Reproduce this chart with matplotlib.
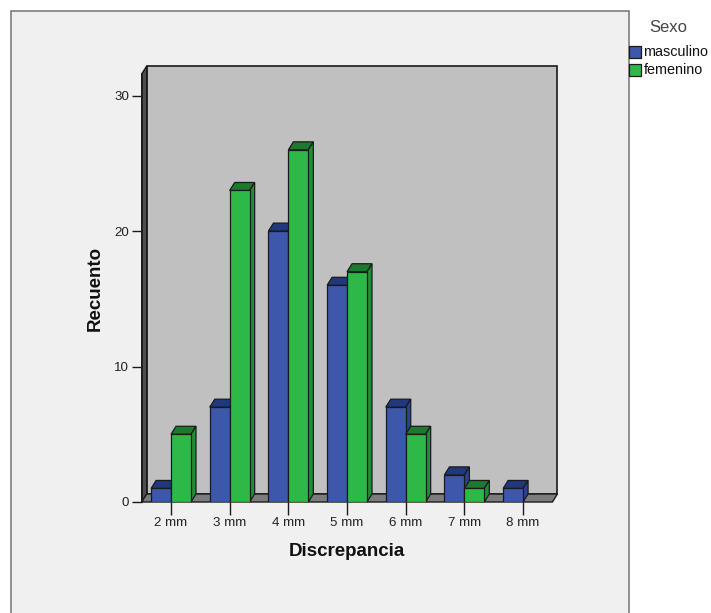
import matplotlib
matplotlib.use("Agg")
from matplotlib import pyplot as plt
from matplotlib.patches import Polygon, Rectangle

plt.rcParams['font.family'] = ['Liberation Sans', 'DejaVu Sans']

# datos: recuento por discrepancia y sexo
categorias = ['2 mm', '3 mm', '4 mm', '5 mm', '6 mm', '7 mm', '8 mm']
masculino = [1, 7, 20, 16, 7, 2, 1]
femenino = [5, 23, 26, 17, 5, 1, 0]
y_ticks = [0, 10, 20, 30]

W, H = 711, 613
fig = plt.figure(figsize=(W / 100, H / 100), dpi=100)
fig.patch.set_facecolor('white')


def fx(px):
    return px / W


def fy(py):
    return 1 - py / H


# panel gris claro del grafico
fig.patches.append(Rectangle((fx(11), fy(640)), fx(629) - fx(11), fy(11) - fy(640),
                             transform=fig.transFigure, facecolor='#f0f0f0',
                             edgecolor='#7f7f7f', linewidth=1.2, zorder=-1))

left, right, bottom, top = 141.7, 552.4, 502, 74
ax = fig.add_axes([fx(left), fy(bottom), (right - left) / W, (bottom - top) / H])
ax.set_zorder(2)
x0, x1 = -0.5, 6.5
ymax = 31.6
ax.set_xlim(x0, x1)
ax.set_ylim(0, ymax)
ax.patch.set_visible(False)
for s in ax.spines.values():
    s.set_visible(False)

# profundidad 3D en unidades de datos
dx = 5 / ((right - left) / (x1 - x0))
dy = 8 / ((bottom - top) / ymax)

ec = '#1a1a1a'
# pared del fondo, pared izquierda y suelo
ax.add_patch(Polygon([(x0 + dx, dy), (x1 + dx, dy), (x1 + dx, ymax + dy), (x0 + dx, ymax + dy)],
                     facecolor='#c0c0c0', edgecolor=ec, lw=1.2, clip_on=False, zorder=1))
ax.add_patch(Polygon([(x0, 0), (x0 + dx, dy), (x0 + dx, ymax + dy), (x0, ymax)],
                     facecolor='#4e4e4e', edgecolor=ec, lw=1.0, clip_on=False, zorder=1))
ax.add_patch(Polygon([(x0, 0), (x1, 0), (x1 + dx, dy), (x0 + dx, dy)],
                     facecolor='#7c7c7c', edgecolor=ec, lw=1.0, clip_on=False, zorder=1))

w = 0.34
pos = list(range(len(categorias)))


def barras3d(xs, vals, face, top_c, side_c, z):
    xs = [x for x, v in zip(xs, vals) if v > 0]
    vals = [v for v in vals if v > 0]
    for x, h in zip(xs, vals):
        ax.add_patch(Polygon([(x, h), (x + w, h), (x + w + dx, h + dy), (x + dx, h + dy)],
                             facecolor=top_c, edgecolor=ec, lw=0.9, clip_on=False, zorder=z))
        ax.add_patch(Polygon([(x + w, 0), (x + w + dx, dy), (x + w + dx, h + dy), (x + w, h)],
                             facecolor=side_c, edgecolor=ec, lw=0.9, clip_on=False, zorder=z))
    ax.bar(xs, vals, width=w, align='edge', color=face, edgecolor=ec, lw=0.9, zorder=z)


barras3d([p - w for p in pos], masculino, '#3d57aa', '#22387c', '#2c4290', 3)
barras3d(pos, femenino, '#2eb848', '#1c7a2f', '#1f8f36', 4)

ax.set_xticks(pos)
ax.set_xticklabels(categorias)
ax.set_yticks(y_ticks)
ax.tick_params(axis='x', length=9, width=1, color=ec, labelsize=9.6, pad=2, labelcolor='#222222')
ax.tick_params(axis='y', length=7, width=1, color=ec, labelsize=9.6, pad=2, labelcolor='#222222')
ax.plot([x0, x0], [0, ymax], color=ec, lw=1.2, clip_on=False, zorder=2)

fig.text(fx(95), fy(288), 'Recuento', rotation=90, ha='center', va='center',
         fontsize=13.5, fontweight='bold', color='#111111')
fig.text(fx(347), fy(552), 'Discrepancia', ha='center', va='center',
         fontsize=13.5, fontweight='bold', color='#111111')

# leyenda
fig.text(fx(668), fy(27), 'Sexo', ha='center', va='center', fontsize=12, color='#444444')
for yy, col, lab in [(46, '#3d57aa', 'masculino'), (64, '#2eb848', 'femenino')]:
    fig.patches.append(Rectangle((fx(629), fy(yy + 12)), 12 / W, 12 / H, transform=fig.transFigure,
                                 facecolor=col, edgecolor=ec, lw=0.9, zorder=5))
    fig.text(fx(643.5), fy(yy + 6.5), lab, ha='left', va='center', fontsize=10.4, color='#111111')

fig.savefig('out.png', dpi=100)
